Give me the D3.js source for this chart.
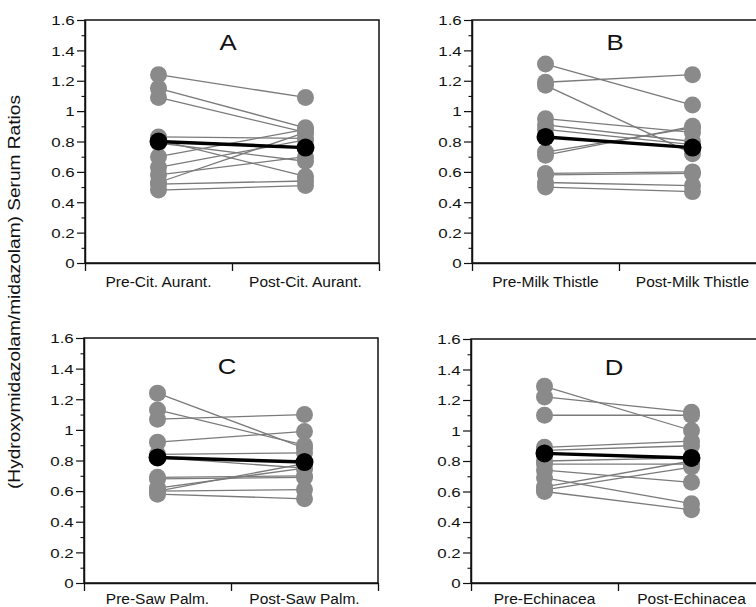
<!DOCTYPE html>
<html>
<head>
<meta charset="utf-8">
<script src="https://cdn.jsdelivr.net/npm/d3@7"></script>
<style>
  html, body { margin: 0; padding: 0; background: #ffffff; }
  svg { display: block; font-family: "Liberation Sans", Arial, Helvetica, sans-serif; }
</style>
</head>
<body>
<svg id="chart" width="756" height="607"></svg>
<script>
// ---------- data ----------
const panelLetters = ["A", "B", "C", "D"];
const catA = ["Pre-Cit. Aurant.", "Post-Cit. Aurant."];
const catB = ["Pre-Milk Thistle", "Post-Milk Thistle"];
const catC = ["Pre-Saw Palm.", "Post-Saw Palm."];
const catD = ["Pre-Echinacea", "Post-Echinacea"];

const preA  = [1.24, 1.15, 1.09, 0.83, 0.81, 0.79, 0.70, 0.63, 0.58, 0.53, 0.52, 0.48];
const postA = [1.09, 0.89, 0.86, 0.82, 0.57, 0.67, 0.88, 0.81, 0.70, 0.86, 0.54, 0.51];
const preB  = [1.31, 1.19, 1.17, 0.95, 0.91, 0.88, 0.73, 0.71, 0.59, 0.58, 0.53, 0.50];
const postB = [1.04, 1.24, 0.72, 0.86, 0.80, 0.78, 0.89, 0.90, 0.60, 0.59, 0.51, 0.47];
const preC  = [1.24, 1.13, 1.07, 0.92, 0.84, 0.82, 0.69, 0.68, 0.62, 0.60, 0.60, 0.58];
const postC = [0.88, 0.90, 1.10, 0.99, 0.85, 0.75, 0.70, 0.69, 0.75, 0.78, 0.61, 0.55];
const preD  = [1.29, 1.22, 1.10, 0.89, 0.87, 0.80, 0.78, 0.74, 0.69, 0.63, 0.61, 0.60];
const postD = [1.00, 1.12, 1.10, 0.93, 0.90, 0.82, 0.78, 0.66, 0.52, 0.80, 0.76, 0.48];

const meanPre  = [0.80, 0.83, 0.82, 0.85];
const meanPost = [0.76, 0.76, 0.79, 0.82];

const yTickValues = [0, 0.2, 0.4, 0.6, 0.8, 1, 1.2, 1.4, 1.6];
const yTickLabels = ["0", "0.2", "0.4", "0.6", "0.8", "1", "1.2", "1.4", "1.6"];
const yMinorValues = [0.1, 0.3, 0.5, 0.7, 0.9, 1.1, 1.3, 1.5];
const yTitle = "(Hydroxymidazolam/midazolam) Serum Ratios";

// ---------- layout ----------
const layout = [
  { x0: 85,  x1: 379, yTop: 20,  yBot: 263, letterDy: 30, labelDy: 24 },
  { x0: 472, x1: 766, yTop: 20,  yBot: 263, letterDy: 30, labelDy: 24 },
  { x0: 84,  x1: 378, yTop: 338, yBot: 583, letterDy: 36, labelDy: 21 },
  { x0: 471, x1: 765, yTop: 339, yBot: 583, letterDy: 36, labelDy: 21 }
];

const panels = [
  { cats: catA, pre: preA, post: postA },
  { cats: catB, pre: preB, post: postB },
  { cats: catC, pre: preC, post: postC },
  { cats: catD, pre: preD, post: postD }
];

const svg = d3.select("#chart");
const greyDot = "#8a8a8a";
const greyLine = "#7a7a7a";

panels.forEach((p, i) => {
  const L = layout[i];
  const g = svg.append("g");
  const y = d3.scaleLinear().domain([0, 1.6]).range([L.yBot, L.yTop]);
  const xb = d3.scaleBand().domain(p.cats).range([L.x0, L.x1]);
  const xt = d3.scaleLinear().domain([0, 2]).range([L.x0, L.x1]);
  const cx = c => xb(c) + xb.bandwidth() / 2;

  // frame (top and right border)
  g.append("rect")
    .attr("x", L.x0).attr("y", L.yTop)
    .attr("width", L.x1 - L.x0).attr("height", L.yBot - L.yTop)
    .attr("fill", "none").attr("stroke", "#111").attr("stroke-width", 1.5);

  // y axis major
  const ya = g.append("g").attr("transform", `translate(${L.x0},0)`)
    .call(d3.axisLeft(y).tickValues(yTickValues).tickSize(8).tickSizeOuter(0)
      .tickFormat((d, k) => yTickLabels[k]));
  ya.select(".domain").attr("stroke", "#111").attr("stroke-width", 1.5);
  ya.selectAll(".tick line").attr("stroke", "#111").attr("stroke-width", 1.2);
  ya.selectAll(".tick text")
    .attr("x", -8.2).attr("dy", "0.36em")
    .attr("transform", "scale(1.25,1)")
    .attr("font-size", 13.5).attr("fill", "#111")
    .attr("font-family", "'Liberation Sans', Arial, sans-serif");

  // y axis minor
  const ym = g.append("g").attr("transform", `translate(${L.x0},0)`)
    .call(d3.axisLeft(y).tickValues(yMinorValues).tickSize(3.5).tickSizeOuter(0).tickFormat(""));
  ym.select(".domain").remove();
  ym.selectAll(".tick line").attr("stroke", "#111").attr("stroke-width", 1.1);

  // x axis with ticks at band boundaries
  const xa = g.append("g").attr("transform", `translate(0,${L.yBot})`)
    .call(d3.axisBottom(xt).tickValues([0, 1, 2]).tickSize(8).tickSizeOuter(0).tickFormat(""));
  xa.select(".domain").attr("stroke", "#111").attr("stroke-width", 1.5);
  xa.selectAll(".tick line").attr("stroke", "#111").attr("stroke-width", 1.3);

  // category labels
  g.selectAll("text.cat").data(p.cats).enter().append("text")
    .attr("class", "cat")
    .attr("x", d => cx(d)).attr("y", L.yBot + L.labelDy)
    .attr("text-anchor", "middle")
    .attr("font-size", 15.5).attr("fill", "#111")
    .text(d => d);

  // panel letter
  g.append("text")
    .attr("transform", `translate(${xt(1) - 4},${L.yTop + L.letterDy}) scale(1.12,1)`)
    .attr("text-anchor", "middle")
    .attr("font-size", 23).attr("fill", "#111")
    .text(panelLetters[i]);

  // subject lines
  const pairs = p.pre.map((v, k) => ({ pre: v, post: p.post[k] }));
  g.selectAll("line.subj").data(pairs).enter().append("line")
    .attr("class", "subj")
    .attr("x1", cx(p.cats[0])).attr("x2", cx(p.cats[1]))
    .attr("y1", d => y(d.pre)).attr("y2", d => y(d.post))
    .attr("stroke", greyLine).attr("stroke-width", 1.3);

  // subject dots
  const dots = [];
  pairs.forEach(d => { dots.push({ c: p.cats[0], v: d.pre }); dots.push({ c: p.cats[1], v: d.post }); });
  g.selectAll("circle.subj").data(dots).enter().append("circle")
    .attr("class", "subj")
    .attr("cx", d => cx(d.c)).attr("cy", d => y(d.v)).attr("r", 8.5)
    .attr("fill", greyDot);

  // mean line and dots
  g.append("line")
    .attr("x1", cx(p.cats[0])).attr("x2", cx(p.cats[1]))
    .attr("y1", y(meanPre[i])).attr("y2", y(meanPost[i]))
    .attr("stroke", "#000").attr("stroke-width", 3.4);
  g.selectAll("circle.mean").data([{ c: p.cats[0], v: meanPre[i] }, { c: p.cats[1], v: meanPost[i] }])
    .enter().append("circle")
    .attr("class", "mean")
    .attr("cx", d => cx(d.c)).attr("cy", d => y(d.v)).attr("r", 9)
    .attr("fill", "#000");
});

// shared y-axis title
svg.append("text")
  .attr("transform", "translate(20,292) rotate(-90)")
  .attr("text-anchor", "middle")
  .attr("font-size", 16).attr("fill", "#111")
  .attr("textLength", 394).attr("lengthAdjust", "spacingAndGlyphs")
  .text(yTitle);
</script>
</body>
</html>
